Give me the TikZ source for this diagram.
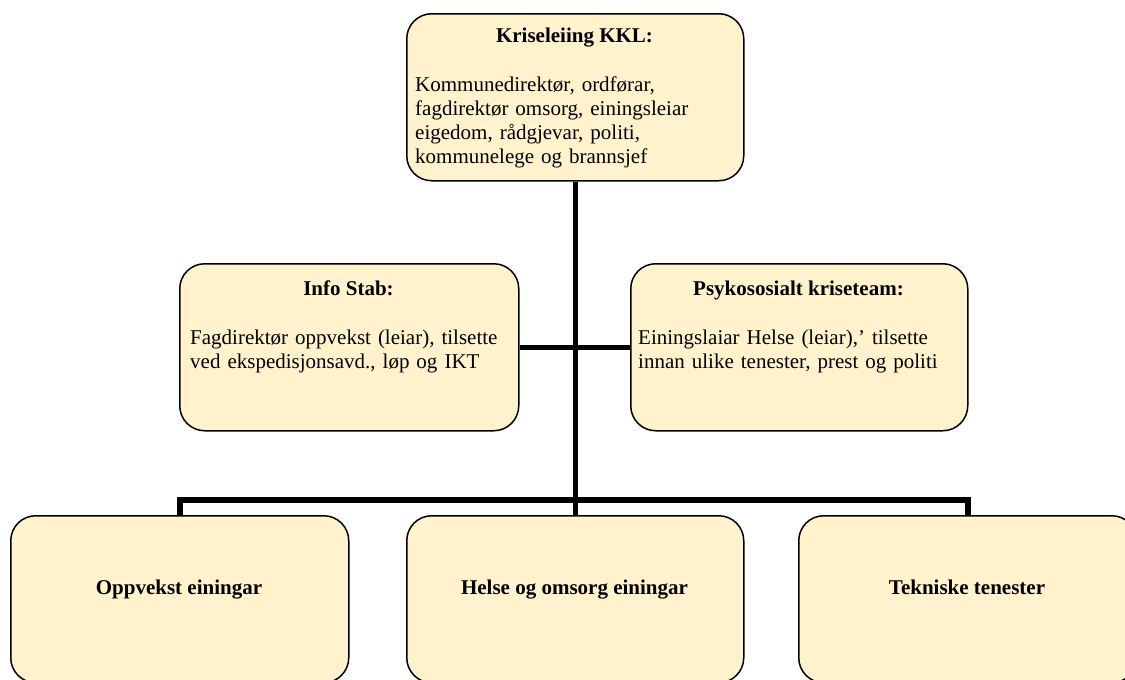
\documentclass[tikz,border=0pt]{standalone}
\usepackage{fontspec}
\setmainfont{Liberation Serif}
\usetikzlibrary{backgrounds}
\definecolor{boxfill}{RGB}{255,242,204}
\begin{document}
\begin{tikzpicture}[x=1pt,y=-1pt,
  box/.style={draw=black,line width=1.5pt,fill=boxfill,rounded corners=25pt,
    minimum width=#1,minimum height=167pt,inner sep=0pt,anchor=north west},
  box/.default=337pt,
  link/.style={line width=5.5pt,draw=black},
  ttl/.style={font=\fontsize{21}{24}\selectfont\bfseries,anchor=base,inner sep=0pt},
  body/.style={font=\fontsize{21}{24}\selectfont,anchor=base west,inner sep=0pt,
    text width=330pt,align=left}]
\useasboundingbox (0,0) rectangle (1125,680);
\clip (0,0) rectangle (1125,680);
% boxes
\node[box] (kkl) at (406,13) {};
\node[box=339pt] (info) at (179,263) {};
\node[box] (psyk) at (630,263) {};
\node[box=338pt] (opp) at (10,515) {};
\node[box] (helse) at (406,515) {};
\node[box=338pt] (tek) at (798,515) {};
% connectors (behind boxes)
\coordinate (busL) at (180,500);
\coordinate (busR) at (967,500);
\begin{scope}[on background layer]
\draw[link] (kkl.south) -- (helse.north);
\draw[link] (info.east) -- (psyk.west);
\draw[link] (opp.north) |- (busL) -- (busR) -| (tek.north);
\end{scope}
% texts
\node[ttl] (kklT) at (574.5,42) {Kriseleiing KKL:};
\node[body] (kklB) at (415,91) {Kommunedirektør, ordførar,\\fagdirektør omsorg, einingsleiar\\eigedom, rådgjevar, politi,\\kommunelege og brannsjef};
\node[ttl] (infoT) at (348.5,295) {Info Stab:};
\node[body] (infoB) at (190,344) {Fagdirektør oppvekst (leiar), tilsette\\ved ekspedisjonsavd., løp og IKT};
\node[ttl] (psykT) at (798.5,295) {Psykososialt kriseteam:};
\node[body] (psykB) at (638,344) {Einingslaiar Helse (leiar),’ tilsette\\innan ulike tenester, prest og politi};
\node[ttl] (oppT) at (179,594) {Oppvekst einingar};
\node[ttl] (helseT) at (574.5,594) {Helse og omsorg einingar};
\node[ttl] (tekT) at (967,594) {Tekniske tenester};
\end{tikzpicture}
\end{document}
